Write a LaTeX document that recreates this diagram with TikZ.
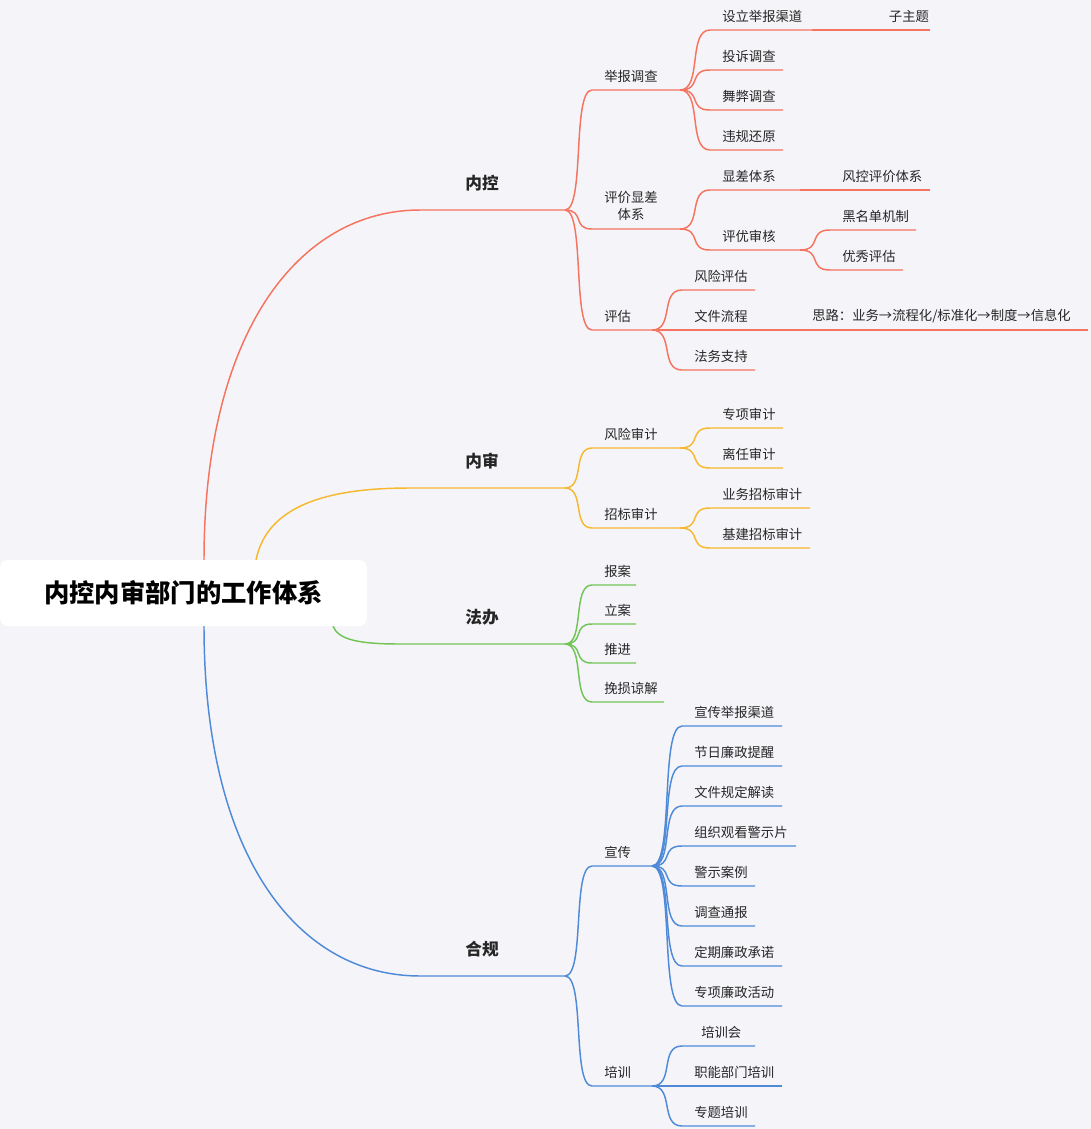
\documentclass[tikz,border=0pt]{standalone}
\usepackage{fontspec}
\setmainfont{Noto Sans CJK SC}
\definecolor{bg}{HTML}{F5F5F9}
\definecolor{cr}{HTML}{F5735F}
\definecolor{cy}{HTML}{F5B82E}
\definecolor{cg}{HTML}{72C456}
\definecolor{cb}{HTML}{4F8AD8}
\tikzset{lbl/.style={anchor=west,font=\fontsize{10}{12}\selectfont,inner sep=0pt,text=black!85},
  main/.style={font=\fontsize{12.5}{14}\selectfont\bfseries,text=black!85},
  ln/.style={line width=1.1pt}}
% #1 color, #2 fx, #3 fy, #4 x1, #5 y, #6 x2, #7 text, #8 name
\newcommand\mybr[8]{%
  \draw[ln,#1] (#2,#3) .. controls ({#2+0.75*(#4-#2)},#3) and ({#2+0.25*(#4-#2)},#5) .. (#4,#5) -- (#6,#5);
  \node[lbl] (#8) at ({#4+12},{#5-14}) {#7};}
\begin{document}
\begin{tikzpicture}[x=0.75pt,y=-0.75pt]
\fill[bg] (0,0) rectangle (1091,1129);
\useasboundingbox (0,0) rectangle (1091,1129);
% main curves
\draw[ln,cr] (204,560) .. controls (204,330) and (300,210) .. (420,210) -- (565,210);
\draw[ln,cy] (256,560) .. controls (268,500) and (340,488) .. (410,488) -- (565,488);
\draw[ln,cg] (333,626) .. controls (338,640) and (360,644) .. (400,644) -- (565,644);
\draw[ln,cb] (204,626) .. controls (204,860) and (300,976) .. (420,976) -- (565,976);
\node[main] (nk) at (482,183) {内控};
\node[main] (ns) at (482,461) {内审};
\node[main] (fb) at (482,617) {法办};
\node[main] (hg) at (482,949) {合规};
% root
\node[fill=white,rounded corners=6pt,minimum width=367*0.75pt,minimum height=66*0.75pt,font=\fontsize{19}{22}\selectfont\bfseries] (root) at (183.5,593) {内控内审部门的工作体系};
% red
\mybr{cr}{565}{210}{592}{90}{680}{举报调查}{a1}
\mybr{cr}{680}{90}{710}{30}{812}{设立举报渠道}{a11}
\mybr{cr}{812}{30}{830}{30}{930}{\hspace{35pt}子主题}{a111}
\mybr{cr}{680}{90}{710}{70}{783}{投诉调查}{a12}
\mybr{cr}{680}{90}{710}{110}{783}{舞弊调查}{a13}
\mybr{cr}{680}{90}{710}{150}{783}{违规还原}{a14}
\draw[ln,cr] (565,210) .. controls ({565+20},210) and ({565+7},229) .. (592,229) -- (680,229);
\node[lbl,anchor=center,align=center,font=\fontsize{10}{12.5}\selectfont] (a2) at (631,206) {评价显差\\体系};
\mybr{cr}{680}{229}{710}{190}{800}{显差体系}{a21}
\mybr{cr}{800}{190}{830}{190}{930}{风控评价体系}{a211}
\mybr{cr}{680}{229}{710}{250}{800}{评优审核}{a22}
\mybr{cr}{800}{250}{830}{230}{916}{黑名单机制}{a221}
\mybr{cr}{800}{250}{830}{270}{903}{优秀评估}{a222}
\mybr{cr}{565}{210}{592}{330}{652}{评估}{a3}
\mybr{cr}{652}{330}{682}{290}{755}{风险评估}{a31}
\mybr{cr}{652}{330}{682}{330}{770}{文件流程}{a32}
\mybr{cr}{770}{330}{800}{330}{1088}{思路：业务→流程化/标准化→制度→信息化}{a321}
\mybr{cr}{652}{330}{682}{370}{755}{法务支持}{a33}
% yellow
\mybr{cy}{565}{488}{592}{448}{680}{风险审计}{b1}
\mybr{cy}{680}{448}{710}{428}{783}{专项审计}{b11}
\mybr{cy}{680}{448}{710}{468}{783}{离任审计}{b12}
\mybr{cy}{565}{488}{592}{528}{680}{招标审计}{b2}
\mybr{cy}{680}{528}{710}{508}{810}{业务招标审计}{b21}
\mybr{cy}{680}{528}{710}{548}{810}{基建招标审计}{b22}
% green
\mybr{cg}{565}{644}{592}{585}{636}{报案}{c1}
\mybr{cg}{565}{644}{592}{624}{636}{立案}{c2}
\mybr{cg}{565}{644}{592}{663}{636}{推进}{c3}
\mybr{cg}{565}{644}{592}{702}{664}{挽损谅解}{c4}
% blue
\mybr{cb}{565}{976}{592}{866}{652}{宣传}{d1}
\mybr{cb}{652}{866}{682}{726}{782}{宣传举报渠道}{d11}
\mybr{cb}{652}{866}{682}{766}{782}{节日廉政提醒}{d12}
\mybr{cb}{652}{866}{682}{806}{782}{文件规定解读}{d13}
\mybr{cb}{652}{866}{682}{846}{796}{组织观看警示片}{d14}
\mybr{cb}{652}{866}{682}{886}{755}{警示案例}{d15}
\mybr{cb}{652}{866}{682}{926}{755}{调查通报}{d16}
\mybr{cb}{652}{866}{682}{966}{782}{定期廉政承诺}{d17}
\mybr{cb}{652}{866}{682}{1006}{782}{专项廉政活动}{d18}
\mybr{cb}{565}{976}{592}{1086}{652}{培训}{d2}
\draw[ln,cb] (652,1086) .. controls (675,1086) and (659,1046) .. (682,1046) -- (755,1046);
\node[lbl] (d21) at (701,1032) {培训会};
\mybr{cb}{652}{1086}{682}{1086}{782}{职能部门培训}{d22}
\mybr{cb}{652}{1086}{682}{1126}{755}{专题培训}{d23}
\end{tikzpicture}
\end{document}
